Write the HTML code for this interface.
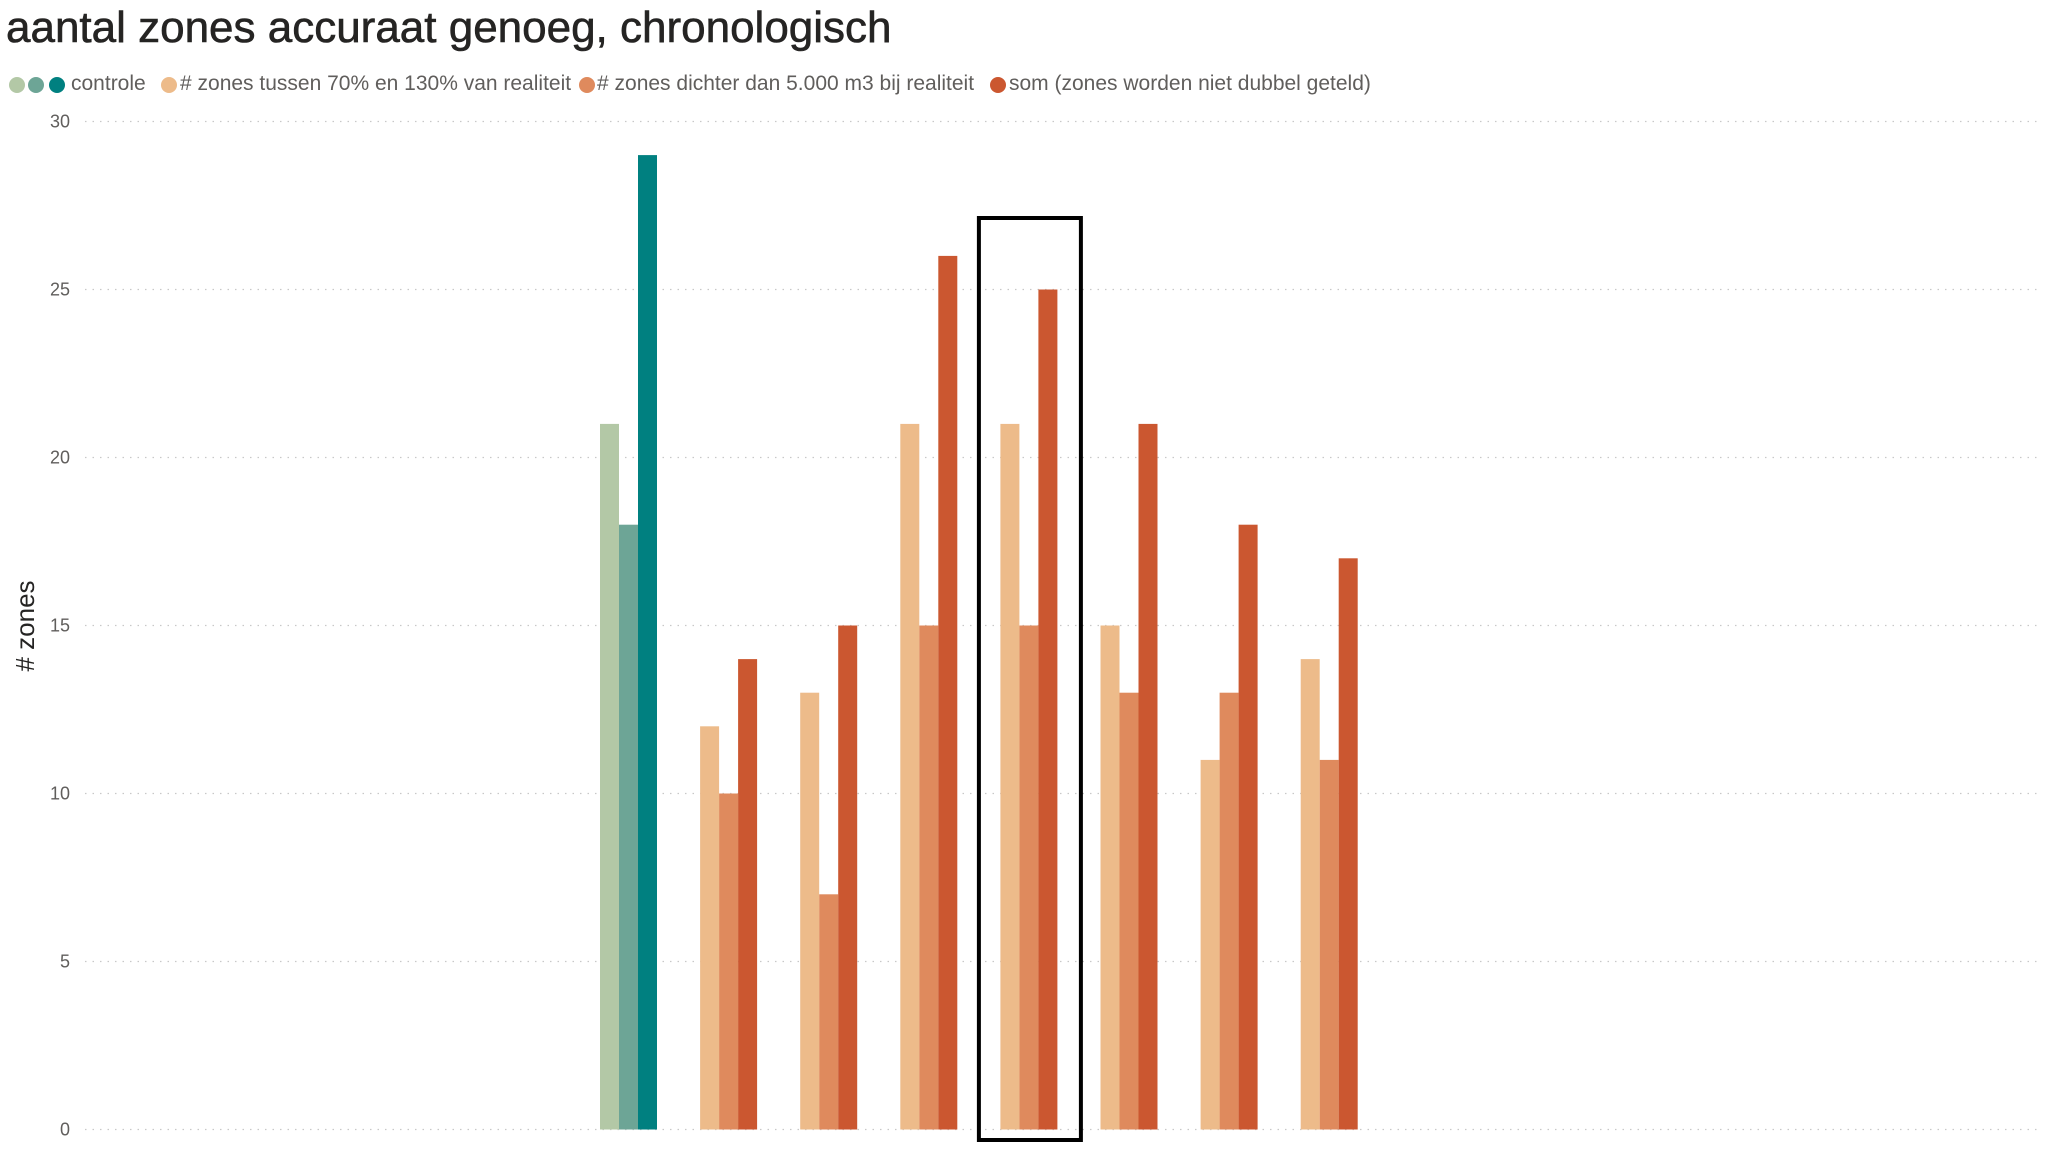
<!DOCTYPE html>
<html><head><meta charset="utf-8"><style>
html,body{margin:0;padding:0;background:#fff;width:2045px;height:1150px;overflow:hidden;font-family:"Liberation Sans",sans-serif}
#title{position:absolute;left:6px;top:3px;font-size:44px;color:#252423;font-family:"Liberation Sans",sans-serif;-webkit-text-stroke:0.6px #252423}
.lg{position:absolute;top:72px;font-size:21px;color:#605E5C;font-family:"Liberation Sans",sans-serif;white-space:nowrap}
.dot{position:absolute;top:77px;width:16px;height:16px;border-radius:50%}
</style></head><body>
<div id="title">aantal zones accuraat genoeg, chronologisch</div>
<div class="dot" style="left:9px;background:#B3C8A6"></div>
<div class="dot" style="left:28px;background:#6DA596"></div>
<div class="dot" style="left:49px;background:#008080"></div>
<div class="lg" style="left:71px">controle</div>
<div class="dot" style="left:161px;background:#EDBB8A"></div>
<div class="lg" style="left:180px"># zones tussen 70% en 130% van realiteit</div>
<div class="dot" style="left:579px;background:#DF8A5D"></div>
<div class="lg" style="left:597px"># zones dichter dan 5.000 m3 bij realiteit</div>
<div class="dot" style="left:990px;background:#CB5730"></div>
<div class="lg" style="left:1009px">som (zones worden niet dubbel geteld)</div>
<svg id="chart" width="2045" height="1150" style="position:absolute;left:0;top:0"></svg>
<script>
const categories=["controle","r1","r2","r3","r4","r5","r6","r7"];
const seriesA=[21,12,13,21,21,15,11,14];
const seriesB=[18,10,7,15,15,13,13,11];
const seriesC=[29,14,15,26,25,21,18,17];
const yTicks=[0,5,10,15,20,25,30];
const highlighted=4;
const NS="http://www.w3.org/2000/svg";
const svg=document.getElementById('chart');
const y0=1129.5,y30=121.5;
function y(v){return y0-(v/30)*(y0-y30);}
function xc(i){return 628.5+i*100.1;}
const bw=19;
function mk(t,a){const e=document.createElementNS(NS,t);for(const k in a)e.setAttribute(k,a[k]);svg.appendChild(e);return e;}
yTicks.forEach(t=>{
  const l=mk('line',{x1:85,x2:2040,y1:y(t),y2:y(t),stroke:'#C8C8C8','stroke-width':1.3,'stroke-dasharray':'1.5 6'});
  
  
  const tx=mk('text',{x:70,y:y(t)+6,'text-anchor':'end','font-size':18,fill:'#605E5C','font-family':'Liberation Sans, sans-serif'});
  tx.textContent=t;
  
  
});
const yt=mk('text',{x:0,y:0,'text-anchor':'middle','font-size':26,fill:'#252423',transform:'translate(34,626) rotate(-90)','font-family':'Liberation Sans, sans-serif'});
yt.textContent='# zones';


categories.forEach((c,i)=>{
  const cols=i===0?['#B3C8A6','#6DA596','#008080']:['#EDBB8A','#DF8A5D','#CB5730'];
  [seriesA[i],seriesB[i],seriesC[i]].forEach((v,j)=>{
    const x=xc(i)-1.5*bw+j*bw;
    const r=mk('rect',{x:x,y:y(v),width:bw,height:y0-y(v),fill:cols[j]});
    
    
  });
});
const hb=mk('rect',{x:xc(highlighted)-50,y:218,width:102,height:922,fill:'none',stroke:'#000','stroke-width':4});


</script>
</body></html>
